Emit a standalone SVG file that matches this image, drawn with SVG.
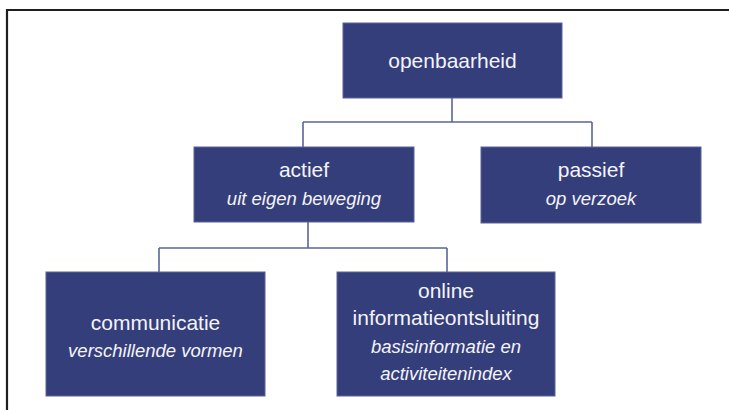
<svg xmlns="http://www.w3.org/2000/svg" width="729" height="410" viewBox="0 0 729 410">
  <style>
    .box { fill: #343e7b; stroke: #5a6296; stroke-width: 1; }
    .t { font-family: "Liberation Sans", Arial, sans-serif; font-size: 21px; fill: #f4f4f8; text-anchor: middle; }
    .i { font-family: "Liberation Sans", Arial, sans-serif; font-size: 18.5px; font-style: italic; fill: #f4f4f8; text-anchor: middle; }
    .link { fill: none; stroke: #5d6597; stroke-width: 1.6; }
    .frame { fill: none; stroke: #1e1e1e; stroke-width: 2.2; }
  </style>

  <rect x="0" y="0" width="729" height="410" fill="#ffffff"/>
  <!-- page frame: top and left rule -->
  <path class="frame" d="M7 410 V10 H729"/>

  <g id="connectors">
    <path class="link" d="M452 98 V122 M303 122 H592 M303 122 V147 M592 122 V147"/>
    <path class="link" d="M308 222 V248 M159 248 H447 M159 248 V272 M447 248 V272"/>
  </g>

  <g id="openbaarheid">
    <rect class="box" x="343" y="23" width="219" height="75"/>
    <text class="t" x="452.5" y="68">openbaarheid</text>
  </g>

  <g id="actief">
    <rect class="box" x="194" y="147" width="220" height="75"/>
    <text class="t" x="304" y="177">actief</text>
    <text class="i" x="304" y="205">uit eigen beweging</text>
  </g>

  <g id="passief">
    <rect class="box" x="481" y="147" width="220" height="76"/>
    <text class="t" x="591" y="177">passief</text>
    <text class="i" x="591" y="205">op verzoek</text>
  </g>

  <g id="communicatie">
    <rect class="box" x="46" y="272" width="219" height="124"/>
    <text class="t" x="155.5" y="330">communicatie</text>
    <text class="i" x="155.5" y="357">verschillende vormen</text>
  </g>

  <g id="online">
    <rect class="box" x="337" y="272" width="218" height="124"/>
    <text class="t" x="446" y="298">online</text>
    <text class="t" x="446" y="325">informatieontsluiting</text>
    <text class="i" x="446" y="353">basisinformatie en</text>
    <text class="i" x="446" y="380">activiteitenindex</text>
  </g>
</svg>
